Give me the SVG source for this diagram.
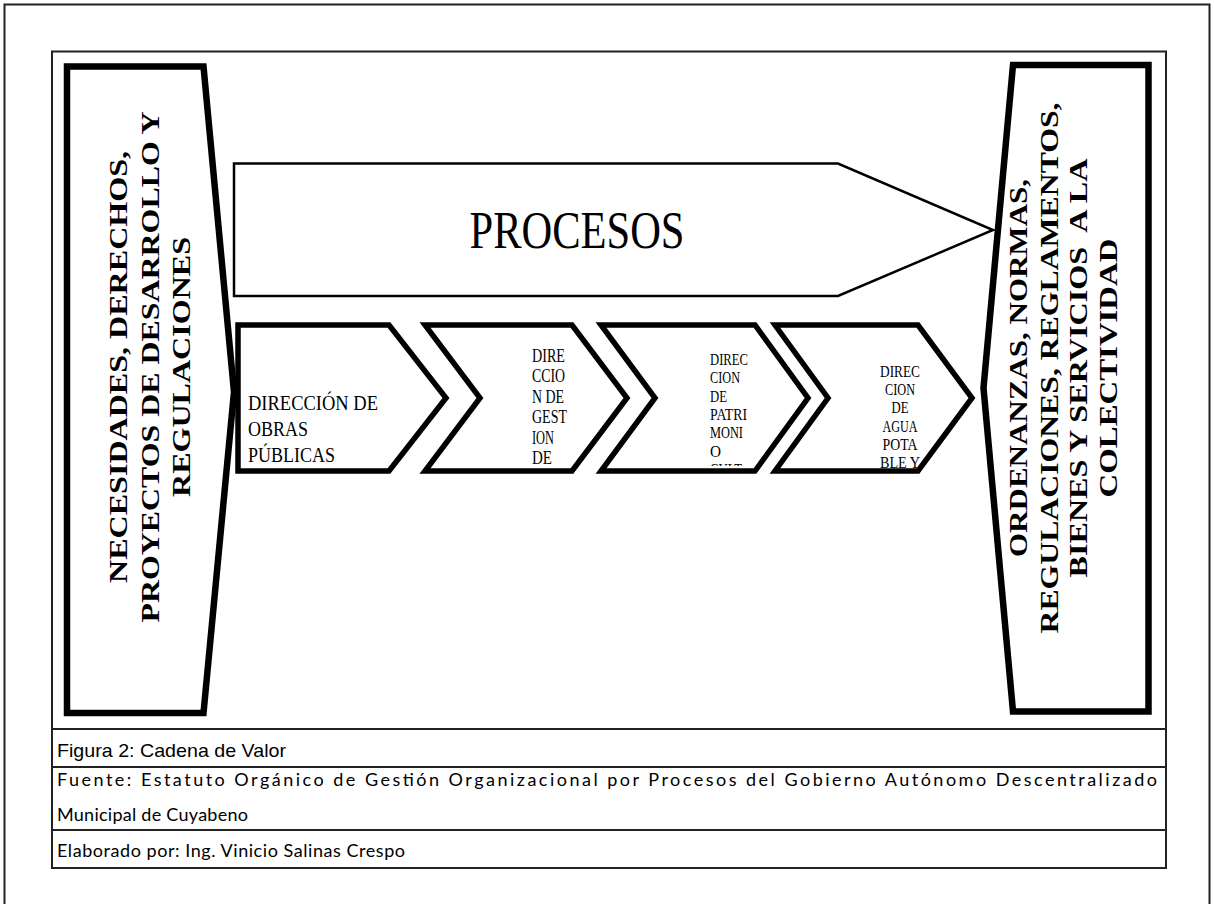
<svg xmlns="http://www.w3.org/2000/svg" width="1214" height="904" viewBox="0 0 1214 904">
<style>
.frame{fill:none;stroke:#222;stroke-width:2}
.thick{fill:#fff;stroke:#000;stroke-width:6.5;stroke-linejoin:miter}
.chev{fill:#fff;stroke:#000;stroke-width:5.5;stroke-linejoin:miter}
.thin{fill:#fff;stroke:#000;stroke-width:2.5}
.bold{font-family:"Liberation Serif","Times New Roman",serif;font-weight:bold;font-size:26px;fill:#000}
.tr{font-family:"Liberation Serif","Times New Roman",serif;fill:#000}
.cap{font-family:"Liberation Sans",Arial,sans-serif;font-size:19px;fill:#000}
.src{font-family:Lato,"Open Sans",sans-serif;font-size:18px;fill:#000}
</style>
<defs>
<clipPath id="clip3"><rect x="700" y="330" width="60" height="136"/></clipPath>
</defs>
<rect class="frame" x="4.5" y="4.5" width="1205" height="920"/>
<rect class="frame" x="52" y="51.5" width="1114" height="816.5"/>
<g id="table">
<line class="frame" x1="52" y1="729" x2="1166" y2="729"/>
<line class="frame" x1="52" y1="767" x2="1166" y2="767"/>
<line class="frame" x1="52" y1="830" x2="1166" y2="830"/>
<text class="cap" x="57" y="757" textLength="229" lengthAdjust="spacingAndGlyphs">Figura 2: Cadena de Valor</text>
<text class="src" x="57" y="786" textLength="1100" lengthAdjust="spacing">Fuente: Estatuto Orgánico de Gestión Organizacional por Procesos del Gobierno Autónomo Descentralizado</text>
<text class="src" x="57" y="821" textLength="191" lengthAdjust="spacing">Municipal de Cuyabeno</text>
<text class="src" x="57" y="857" textLength="348" lengthAdjust="spacing">Elaborado por: Ing. Vinicio Salinas Crespo</text>
</g>
<g id="node-left">
<polygon class="thick" points="67,66.5 203.5,66.5 234,392 203.5,713 67,713"/>
<g transform="translate(0,367) rotate(-90)">
<text class="bold" x="0" y="127" text-anchor="middle" textLength="432" lengthAdjust="spacingAndGlyphs">NECESIDADES, DERECHOS,</text>
<text class="bold" x="0" y="159" text-anchor="middle" textLength="511" lengthAdjust="spacingAndGlyphs">PROYECTOS DE DESARROLLO Y</text>
<text class="bold" x="0" y="190" text-anchor="middle" textLength="260" lengthAdjust="spacingAndGlyphs">REGULACIONES</text>
</g>
</g>
<g id="node-right">
<polygon class="thick" points="1013,65 1148.5,65 1148.5,711.5 1013,711.5 983.5,388"/>
<g transform="translate(0,368) rotate(-90)">
<text class="bold" x="0" y="1027" text-anchor="middle" textLength="378" lengthAdjust="spacingAndGlyphs">ORDENANZAS, NORMAS,</text>
<text class="bold" x="0" y="1058" text-anchor="middle" textLength="531" lengthAdjust="spacingAndGlyphs">REGULACIONES, REGLAMENTOS,</text>
<text class="bold" x="0" y="1087" text-anchor="middle" textLength="419" lengthAdjust="spacingAndGlyphs" xml:space="preserve">BIENES Y SERVICIOS  A LA</text>
<text class="bold" x="0" y="1117" text-anchor="middle" textLength="259" lengthAdjust="spacingAndGlyphs">COLECTIVIDAD</text>
</g>
</g>
<g id="node-procesos">
<polygon class="thin" points="234,163.5 838,163.5 993,230 838,296 234,296"/>
<text class="tr" x="577" y="248" font-size="52" text-anchor="middle" textLength="215" lengthAdjust="spacingAndGlyphs">PROCESOS</text>
</g>
<g id="node-c1">
<polygon class="chev" points="238,325 389,325 446,398 389,471 238,471"/>
<g class="tr" font-size="20">
<text x="248" y="410" textLength="130" lengthAdjust="spacingAndGlyphs">DIRECCIÓN DE</text>
<text x="248" y="436" textLength="60" lengthAdjust="spacingAndGlyphs">OBRAS</text>
<text x="248" y="462" textLength="87" lengthAdjust="spacingAndGlyphs">PÚBLICAS</text>
</g>
</g>
<g id="node-c2">
<polygon class="chev" points="425,325 572,325 627,398 572,471 425,471 480,398"/>
<g class="tr" font-size="18">
<text x="532" y="362" textLength="33" lengthAdjust="spacingAndGlyphs">DIRE</text>
<text x="532" y="382" textLength="33" lengthAdjust="spacingAndGlyphs">CCIO</text>
<text x="532" y="402.5" textLength="32" lengthAdjust="spacingAndGlyphs">N DE</text>
<text x="532" y="423" textLength="35" lengthAdjust="spacingAndGlyphs">GEST</text>
<text x="532" y="443.5" textLength="22" lengthAdjust="spacingAndGlyphs">ION</text>
<text x="532" y="464" textLength="20" lengthAdjust="spacingAndGlyphs">DE</text>
</g>
</g>
<g id="node-c3">
<polygon class="chev" points="601,325 755,325 808,398 755,471 601,471 655,398"/>
<g class="tr" font-size="17" clip-path="url(#clip3)">
<text x="710" y="365" textLength="38" lengthAdjust="spacingAndGlyphs">DIREC</text>
<text x="710" y="383.3" textLength="30" lengthAdjust="spacingAndGlyphs">CION</text>
<text x="710" y="401.6" textLength="17" lengthAdjust="spacingAndGlyphs">DE</text>
<text x="710" y="420" textLength="37" lengthAdjust="spacingAndGlyphs">PATRI</text>
<text x="710" y="438.3" textLength="33" lengthAdjust="spacingAndGlyphs">MONI</text>
<text x="710" y="456.6" textLength="11" lengthAdjust="spacingAndGlyphs">O</text>
<text x="710" y="475" textLength="32" lengthAdjust="spacingAndGlyphs">CULT</text>
</g>
</g>
<g id="node-c4">
<polygon class="chev" points="775,325 918,325 972,398 918,471 775,471 828,398"/>
<g class="tr" font-size="17" text-anchor="middle">
<text x="900" y="376.7" textLength="40" lengthAdjust="spacingAndGlyphs">DIREC</text>
<text x="900" y="395" textLength="30" lengthAdjust="spacingAndGlyphs">CION</text>
<text x="900" y="413.3" textLength="17" lengthAdjust="spacingAndGlyphs">DE</text>
<text x="900" y="431.7" textLength="35" lengthAdjust="spacingAndGlyphs">AGUA</text>
<text x="900" y="450" textLength="35" lengthAdjust="spacingAndGlyphs">POTA</text>
<text x="900" y="468.3" textLength="40" lengthAdjust="spacingAndGlyphs">BLE Y</text>
</g>
</g>
<g id="connectors"></g>
</svg>
